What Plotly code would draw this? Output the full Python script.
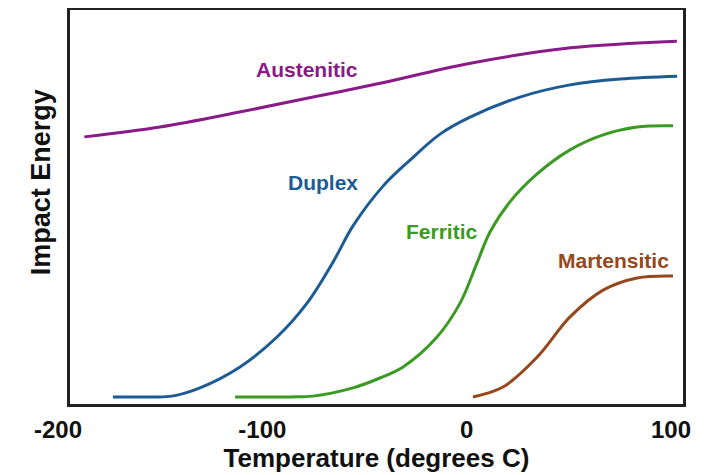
import plotly.graph_objects as go

# Temperature (degrees C) and relative impact energy (0-100)
aus_x = [-193, -156, -117, -81, -50, -4, 45, 97]
aus_y = [67.8, 70.3, 74.1, 77.9, 81.2, 86.5, 90.4, 92.1]

dup_x = [-179, -160.8, -150.1, -136.4, -116.8, -98.7, -84.0, -71.3, -61.5, -46.8,
         -33.6, -18.9, -4.2, 20.2, 44.7, 69.2, 97.1]
dup_y = [1.8, 1.8, 2.0, 4.1, 9.4, 17.0, 25.6, 36.0, 45.2, 55.3,
         61.9, 68.5, 72.8, 77.9, 81.0, 82.5, 83.2]

fer_x = [-119.2, -92.3, -81.1, -61.5, -48.3, -37.0, -20.4, -9.1, -0.8, 5.6,
         15.3, 28.6, 44.7, 60.9, 77.5, 95.1]
fer_y = [1.8, 1.8, 2.0, 4.1, 6.6, 9.4, 17.0, 25.6, 35.8, 43.7,
         51.3, 58.4, 64.5, 68.3, 70.3, 70.6]

mar_x = [-2.8, 11.9, 28.6, 44.7, 60.9, 77.5, 95.1]
mar_y = [1.8, 4.3, 11.9, 22.1, 28.9, 32.0, 32.5]

names = ["Austenitic", "Duplex", "Ferritic", "Martensitic"]
colors = ["#8B1A89", "#1D5B94", "#3A9A23", "#94481C"]
label_x = [-84, -76, -18, 66]
label_y = [84.8, 56.3, 43.9, 36.5]

tick_vals = [-200, -100, 0, 100]
tick_text = ["<b>-200</b>", "<b>-100</b>", "<b>0</b>", "<b>100</b>"]

series = [(aus_x, aus_y), (dup_x, dup_y), (fer_x, fer_y), (mar_x, mar_y)]

FONT = "Liberation Sans, Arial, sans-serif"

fig = go.Figure()
for (xs, ys), name, col in zip(series, names, colors):
    fig.add_trace(go.Scatter(
        x=xs, y=ys, mode="lines", name=name,
        line=dict(color=col, width=3, shape="spline", smoothing=1.0),
        showlegend=False, hoverinfo="skip",
    ))

for name, col, lx, ly in zip(names, colors, label_x, label_y):
    fig.add_annotation(
        x=lx, y=ly, xref="x", yref="y", text="<b>%s</b>" % name,
        showarrow=False, font=dict(family=FONT, size=21, color=col),
        xanchor="center", yanchor="middle",
    )

fig.add_annotation(
    x=-0.047, y=0.563, xref="paper", yref="paper", text="<b>Impact Energy</b>",
    textangle=-90, showarrow=False, xanchor="center", yanchor="middle",
    font=dict(family=FONT, size=27, color="#111111"),
)

# page body has an 8px margin, so the figure is sized to fit inside the window
fig.update_layout(
    width=715, height=467,
    margin=dict(l=62, r=40, t=2, b=71),
    paper_bgcolor="white", plot_bgcolor="white",
    xaxis=dict(
        range=[-200, 100], tickvals=tick_vals, ticktext=tick_text,
        showgrid=False, zeroline=False, ticks="",
        showline=True, linecolor="#222222", linewidth=3, mirror=True,
        tickfont=dict(family=FONT, size=24, color="#111111"),
        ticklabelshift=-12, ticklabelstandoff=2, automargin=False,
        title=dict(text="<b>Temperature (degrees C)</b>", standoff=2,
                   font=dict(family=FONT, size=26, color="#111111")),
    ),
    yaxis=dict(
        range=[0, 100], showticklabels=False, showgrid=False, zeroline=False,
        ticks="", showline=True, linecolor="#222222", linewidth=3, mirror=True,
        automargin=False,
    ),
)

fig.write_html("out.html")
